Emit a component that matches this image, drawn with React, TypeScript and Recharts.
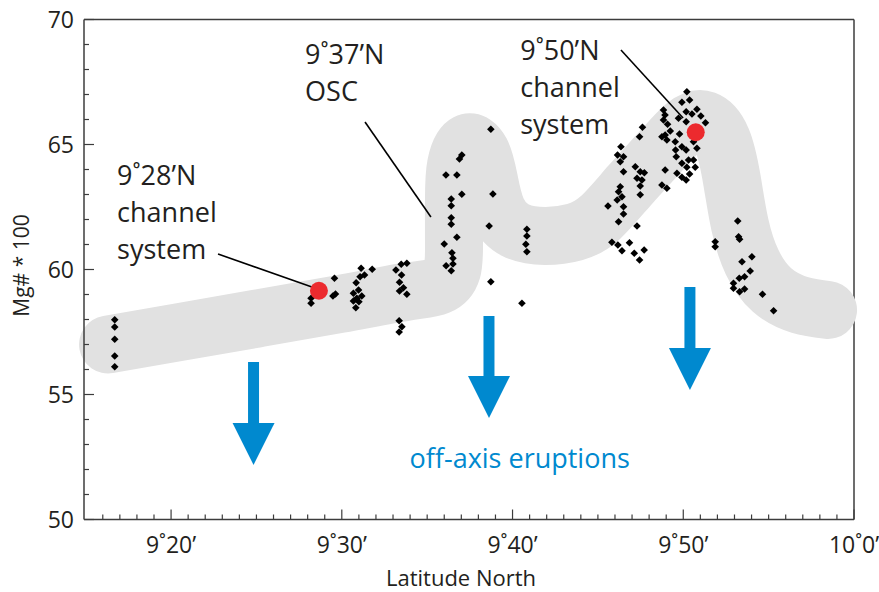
import React from "react";
import { ComposedChart, Line, Scatter, XAxis, YAxis, ReferenceLine } from "recharts";

const FONT = "'Open Sans', sans-serif";
const INK = "#231f20";
const AXIS = "#3c3c3c";
const BLUE = "#0089cf";
const RED = "#ec2a2e";
const BAND = "#e1e1e1";

// latitude in minutes past 9°N, Mg# * 100
const xTicks = Array.from({ length: 45 }, (_, i) => 16 + i);
const yTicks = Array.from({ length: 21 }, (_, i) => 50 + i);

// centre line of the grey trend band
const bandLat = [16.31, 20.52, 25.21, 29.89, 33.7, 35.63, 36.46, 36.57, 36.57, 36.69, 37.33, 38.15, 38.62, 39.09, 40.15, 41.9, 43.66, 45.12, 46.88, 48.64, 50.1, 51.27, 52.27, 52.85, 53.32, 54.03, 55.2, 56.84, 58.48];
const bandMg = [57.0, 57.5, 58.06, 58.62, 59.1, 59.34, 59.98, 61.18, 62.78, 64.18, 65.06, 64.7, 63.58, 62.38, 61.58, 61.34, 61.5, 62.06, 63.38, 64.7, 65.74, 65.98, 65.18, 63.58, 61.78, 60.3, 59.18, 58.58, 58.38];

// samples [lat, mg]
const south = [[16.7, 57.99], [16.7, 57.7], [16.7, 57.21], [16.7, 56.54], [16.7, 56.11]];
const channel928 = [
  [28.2, 58.85], [28.2, 58.65], [29.57, 59.65], [29.48, 58.94], [29.63, 59.02],
  [31.13, 60.05], [31.78, 60.01], [31.33, 59.78], [31.07, 59.71], [30.84, 59.47], [30.98, 59.18], [30.68, 59.05],
  [31.17, 58.94], [30.88, 58.85], [30.68, 58.74], [31.0, 58.71], [30.82, 58.47],
  [33.48, 60.21], [33.81, 60.25], [33.17, 59.98], [33.5, 59.78], [33.38, 59.49], [33.61, 59.27], [33.38, 59.14],
  [33.81, 59.01], [33.36, 57.95], [33.52, 57.71], [33.36, 57.5],
];
const osc = [
  [38.73, 65.61], [37.03, 64.58], [36.89, 64.42], [36.1, 63.78], [36.74, 63.78], [36.41, 62.82], [36.41, 62.55],
  [37.03, 63.01], [38.85, 63.02], [36.41, 62.07], [36.41, 61.81], [36.74, 61.29], [36.0, 61.02], [38.63, 61.74],
  [36.45, 60.67], [36.51, 60.45], [36.51, 60.22], [36.11, 60.15], [36.41, 59.95], [38.73, 59.51], [40.55, 58.65],
  [40.84, 61.61], [40.84, 61.34], [40.78, 61.01], [40.84, 60.71],
];
const northFlank = [
  [45.59, 62.54], [45.82, 61.09], [46.17, 60.98], [46.13, 62.78], [46.35, 64.91], [46.15, 64.58], [46.5, 64.51],
  [46.31, 64.31], [46.5, 63.91], [47.19, 64.11], [47.48, 63.91], [47.29, 63.65], [47.58, 63.58], [47.48, 63.34],
  [47.48, 62.99], [47.72, 63.87], [46.31, 63.31], [46.21, 63.11], [46.41, 62.91], [46.5, 62.51], [46.5, 62.22],
  [46.21, 61.91], [47.29, 61.74], [46.41, 60.75], [46.85, 61.07], [47.13, 60.65], [47.44, 60.38], [47.71, 60.78],
  [47.61, 65.69], [47.44, 65.31],
];
const channel950 = [
  [50.21, 67.11], [49.92, 66.69], [50.37, 66.78], [48.84, 66.38], [48.93, 66.18], [48.84, 65.98], [49.08, 65.81],
  [50.17, 66.31], [50.51, 66.22], [50.8, 66.41], [51.03, 66.14], [49.72, 66.05], [50.17, 65.91], [51.3, 65.87],
  [49.24, 65.54], [48.94, 65.38], [48.75, 65.31], [49.04, 65.18], [49.78, 65.42], [50.8, 64.85], [50.6, 65.11],
  [49.53, 65.11], [49.92, 64.91], [49.55, 64.78], [50.17, 64.78], [49.59, 64.51], [49.92, 64.25], [50.31, 64.38],
  [50.6, 64.38], [50.21, 64.09], [50.7, 64.09], [49.63, 63.85], [49.92, 63.69], [50.17, 63.58], [50.37, 63.82],
  [48.94, 63.98], [48.75, 63.38], [49.04, 63.25],
];
const southFlank = [
  [53.19, 61.94], [51.87, 61.11], [51.87, 60.91], [53.24, 61.31], [53.3, 61.21], [54.02, 60.51], [53.44, 60.31],
  [53.92, 59.94], [53.59, 59.71], [53.28, 59.65], [52.94, 59.45], [52.94, 59.25], [53.59, 59.22], [53.3, 59.11],
  [54.64, 59.01], [55.29, 58.35],
];

// red channel-system markers
const channelLat = [28.66, 50.73];
const channelMg = [59.15, 65.49];

// off-axis arrows
const arrowLat = [24.83, 38.62, 50.39];
const arrowTop = [56.3, 58.14, 59.3];
const arrowBase = [53.86, 55.74, 56.86];

// annotations
const noteLat = [16.84, 27.85, 40.45];
const noteMg = [63.38, 68.22, 68.38];
const noteLines = [
  ["9˚28’N", "channel", "system"],
  ["9˚37’N", "OSC"],
  ["9˚50’N", "channel", "system"],
];
const leaders = [
  [[22.75, 60.62], [28.25, 59.3]],
  [[31.36, 65.9], [35.22, 62.1]],
  [[46.35, 68.78], [49.99, 66.06]],
];
const offAxisLat = 40.42;
const offAxisMg = 52.06;

const bandData = bandLat.map((x, i) => ({ x, y: bandMg[i] }));
const samples = [...south, ...channel928, ...osc, ...northFlank, ...channel950, ...southFlank].map(([x, y]) => ({ x, y }));
const channelData = channelLat.map((x, i) => ({ x, y: channelMg[i] }));
const headData = arrowLat.map((x, i) => ({ x, y: arrowBase[i] }));
const noteData = noteLat.map((x, i) => ({ x, y: noteMg[i], lines: noteLines[i] }));
const offAxisData = [{ x: offAxisLat, y: offAxisMg, lines: ["off-axis eruptions"] }];

const fmtLat = (v: number) => (v >= 60 ? "10˚0’" : `9˚${v}’`);

const XTick = (props: any) => {
  const { x, y, payload } = props;
  const v = payload.value;
  const major = v % 10 === 0;
  return (
    <g>
      <line x1={x} y1={y} x2={x} y2={y - (major ? 10 : 5)} stroke={AXIS} strokeWidth={1.2} />
      {major && (
        <text x={x} y={y + 33} textAnchor="middle" fontSize={23} fill={INK} fontFamily={FONT}>
          {fmtLat(v)}
        </text>
      )}
    </g>
  );
};

const YTick = (props: any) => {
  const { x, y, payload } = props;
  const v = payload.value;
  const major = v % 5 === 0;
  return (
    <g>
      <line x1={x} y1={y} x2={x + (major ? 10 : 5)} y2={y} stroke={AXIS} strokeWidth={1.2} />
      {major && (
        <text x={x - 10} y={y} dy="0.36em" textAnchor="end" fontSize={23} fill={INK} fontFamily={FONT}>
          {v}
        </text>
      )}
    </g>
  );
};

const Diamond = (p: any) => {
  const { cx, cy } = p;
  const s = 3.8;
  return <polygon points={`${cx},${cy - s} ${cx + s},${cy} ${cx},${cy + s} ${cx - s},${cy}`} fill="#000" />;
};

const RedDot = (p: any) => <circle cx={p.cx} cy={p.cy} r={9} fill={RED} />;

const ArrowHead = (p: any) => {
  const { cx, cy } = p;
  return <polygon points={`${cx - 21},${cy} ${cx + 21},${cy} ${cx},${cy + 42}`} fill={BLUE} />;
};

const Note = (color: string, anchor: "start" | "middle") => (p: any) => {
  const { cx, cy, payload } = p;
  return (
    <text x={cx} y={cy} fontSize={27} fill={color} fontFamily={FONT} textAnchor={anchor}>
      {payload.lines.map((l: string, i: number) => (
        <tspan key={i} x={cx} y={cy + i * 37}>
          {l}
        </tspan>
      ))}
    </text>
  );
};

export default function App() {
  return (
    <div style={{ position: "absolute", left: 0, top: 0, width: 879, height: 592, background: "#fff" }}>
      <ComposedChart width={879} height={592} margin={{ top: 19.5, right: 25, bottom: 0, left: 0 }}>
        <XAxis
          type="number"
          dataKey="x"
          domain={[14.9, 60]}
          ticks={xTicks}
          interval={0}
          tickSize={0}
          tickMargin={0}
          tickLine={false}
          axisLine={{ stroke: AXIS, strokeWidth: 1.5 }}
          tick={(p: any) => <XTick {...p} />}
          height={72.5}
          label={{
            content: (p: any) => {
              const vb = p.viewBox;
              return (
                <text x={vb.x + vb.width / 2 - 8} y={vb.y + 66} textAnchor="middle" fontSize={22} fill={INK} fontFamily={FONT}>
                  Latitude North
                </text>
              );
            },
          }}
        />
        <YAxis
          type="number"
          dataKey="y"
          domain={[50, 70]}
          ticks={yTicks}
          interval={0}
          tickSize={0}
          tickMargin={0}
          tickLine={false}
          axisLine={{ stroke: AXIS, strokeWidth: 1.5 }}
          tick={(p: any) => <YTick {...p} />}
          width={84}
          label={{
            content: (p: any) => {
              const vb = p.viewBox;
              const cx = vb.x + 22;
              const cy = vb.y + vb.height / 2 - 4;
              return (
                <text x={cx} y={cy} dy="0.35em" textAnchor="middle" fontSize={21} fill={INK} fontFamily={FONT} transform={`rotate(-90 ${cx} ${cy})`}>
                  Mg# * 100
                </text>
              );
            },
          }}
        />
        <ReferenceLine y={70} stroke={AXIS} strokeWidth={1.5} />
        <ReferenceLine x={60} stroke={AXIS} strokeWidth={1.5} />
        <Line
          data={bandData}
          dataKey="y"
          type="natural"
          stroke={BAND}
          strokeWidth={58}
          strokeLinecap="round"
          strokeLinejoin="round"
          dot={false}
          activeDot={false}
          isAnimationActive={false}
        />
        {leaders.map((s, i) => (
          <ReferenceLine
            key={i}
            segment={[{ x: s[0][0], y: s[0][1] }, { x: s[1][0], y: s[1][1] }]}
            stroke="#000"
            strokeWidth={1.6}
            ifOverflow="visible"
          />
        ))}
        {arrowLat.map((x, i) => (
          <ReferenceLine
            key={`a${i}`}
            segment={[{ x, y: arrowTop[i] }, { x, y: arrowBase[i] }]}
            stroke={BLUE}
            strokeWidth={11}
            ifOverflow="visible"
          />
        ))}
        <Scatter data={headData} shape={ArrowHead} isAnimationActive={false} />
        <Scatter data={samples} shape={Diamond} isAnimationActive={false} />
        <Scatter data={channelData} shape={RedDot} isAnimationActive={false} />
        <Scatter data={noteData} shape={Note(INK, "start")} isAnimationActive={false} />
        <Scatter data={offAxisData} shape={Note(BLUE, "middle")} isAnimationActive={false} />
      </ComposedChart>
    </div>
  );
}
